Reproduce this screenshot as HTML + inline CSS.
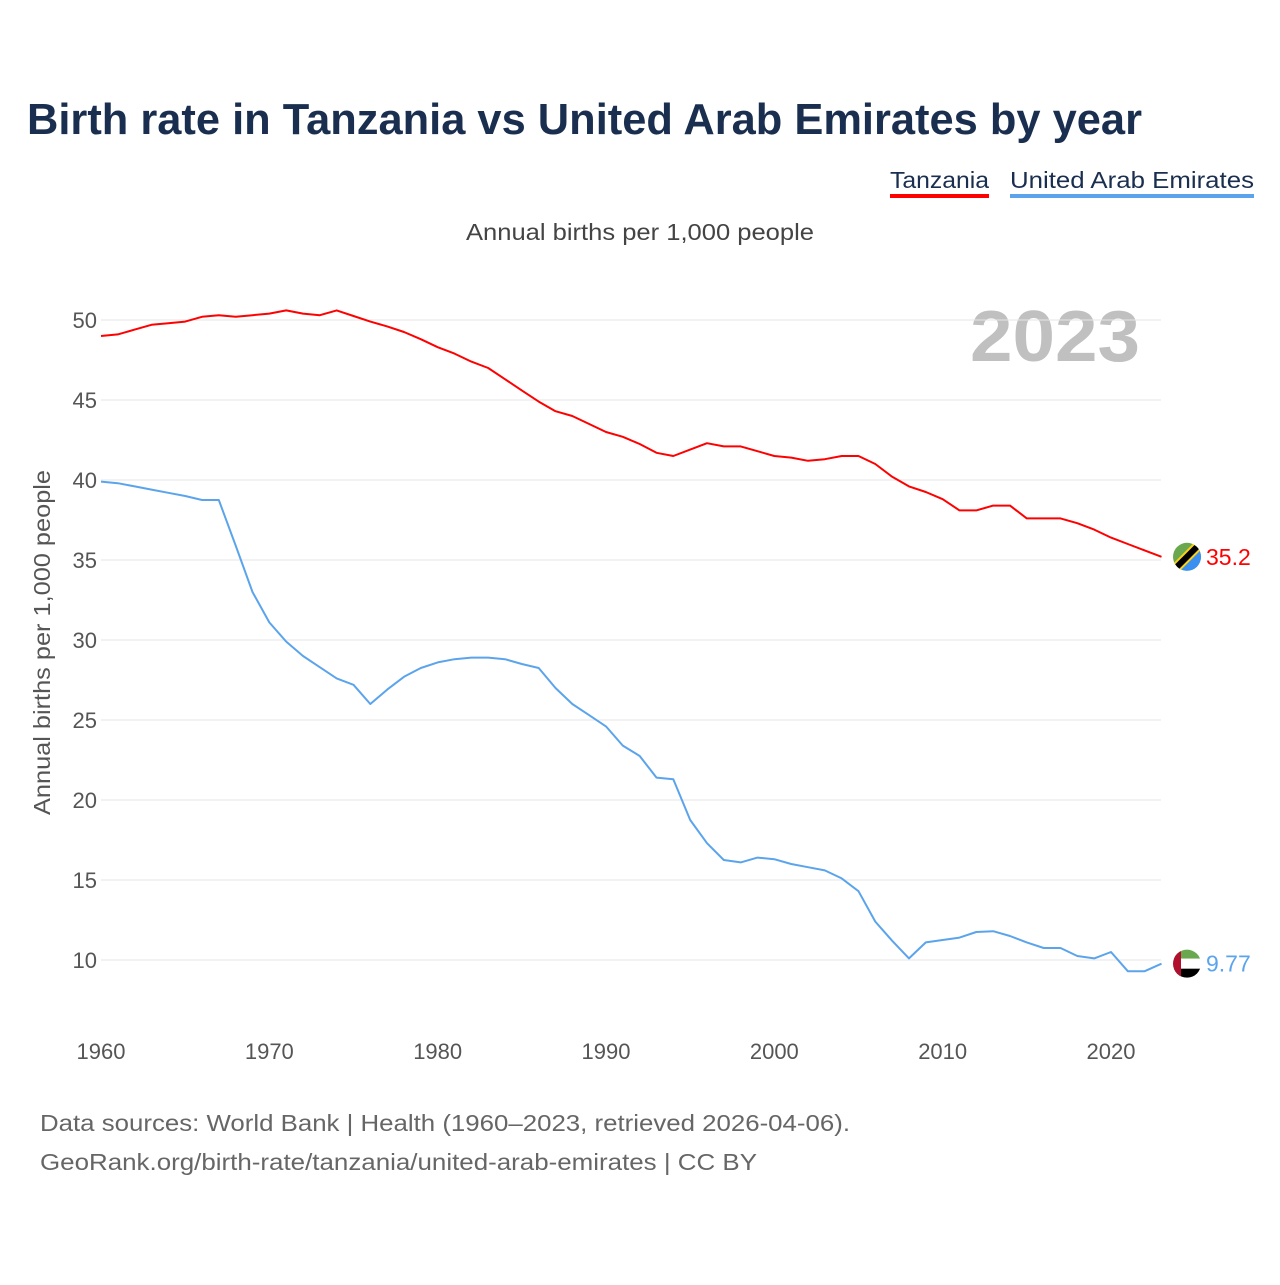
<!DOCTYPE html>
<html><head><meta charset="utf-8">
<style>
body{margin:0;background:#fff;}
svg text{font-family:"Liberation Sans",sans-serif;}
</style></head>
<body>
<svg width="1280" height="1280" xmlns="http://www.w3.org/2000/svg" id="chart">
<text x="27" y="134" font-size="44" font-weight="bold" fill="#1a2e4f" textLength="1115" lengthAdjust="spacingAndGlyphs">Birth rate in Tanzania vs United Arab Emirates by year</text>
<g>
<text x="890" y="188" font-size="23" fill="#1a2e4f" textLength="99" lengthAdjust="spacingAndGlyphs">Tanzania</text>
<rect x="890" y="194" width="99" height="4" fill="#ff0000"/>
<text x="1010" y="188" font-size="23" fill="#1a2e4f" textLength="244" lengthAdjust="spacingAndGlyphs">United Arab Emirates</text>
<rect x="1010" y="194" width="244" height="4" fill="#5ba4ec"/>
</g>
<text x="466" y="240" font-size="23" fill="#444" textLength="348" lengthAdjust="spacingAndGlyphs">Annual births per 1,000 people</text>
<text x="970" y="361" font-size="72" font-weight="bold" fill="#c0c0c0" textLength="170" lengthAdjust="spacingAndGlyphs">2023</text>
<text transform="translate(50,815) rotate(-90)" font-size="23" fill="#555" textLength="345" lengthAdjust="spacingAndGlyphs">Annual births per 1,000 people</text>
<g id="grid"></g><g id="yticks"></g><g id="xticks"></g><g id="series"></g><g id="ends"></g>
<text x="40" y="1131" font-size="23" fill="#666" textLength="810" lengthAdjust="spacingAndGlyphs">Data sources: World Bank | Health (1960–2023, retrieved 2026-04-06).</text>
<text x="40" y="1170" font-size="23" fill="#666" textLength="717" lengthAdjust="spacingAndGlyphs">GeoRank.org/birth-rate/tanzania/united-arab-emirates | CC BY</text>
</svg>
<script>
const years=[];for(let y=1960;y<=2023;y++)years.push(y);
const tanzania=[49.0,49.1,49.4,49.7,49.8,49.9,50.2,50.3,50.2,50.3,50.4,50.6,50.4,50.3,50.6,50.25,49.9,49.6,49.25,48.8,48.3,47.9,47.4,47.0,46.3,45.6,44.9,44.3,44.0,43.5,43.0,42.7,42.25,41.7,41.5,41.9,42.3,42.1,42.1,41.8,41.5,41.4,41.2,41.3,41.5,41.5,41.0,40.2,39.6,39.25,38.8,38.1,38.1,38.4,38.4,37.6,37.6,37.6,37.3,36.9,36.4,36.0,35.6,35.2];
const uae=[39.9,39.8,39.6,39.4,39.2,39.0,38.75,38.75,35.9,33.0,31.1,29.9,29.0,28.3,27.6,27.2,26.0,26.9,27.7,28.25,28.6,28.8,28.9,28.9,28.8,28.5,28.25,27.0,26.0,25.3,24.6,23.4,22.75,21.4,21.3,18.75,17.3,16.25,16.1,16.4,16.3,16.0,15.8,15.6,15.1,14.3,12.4,11.2,10.1,11.1,11.25,11.4,11.75,11.8,11.5,11.1,10.75,10.75,10.25,10.1,10.5,9.3,9.3,9.77];
const yTicks=[10,15,20,25,30,35,40,45,50];
const xTicks=[1960,1970,1980,1990,2000,2010,2020];
const endLabels=["35.2","9.77"];
const NS="http://www.w3.org/2000/svg";
const xs=y=>101+(y-1960)*(1010/60);
const ys=v=>960-(v-10)*16;
function mk(t,a,p){const e=document.createElementNS(NS,t);for(const k in a)e.setAttribute(k,a[k]);p.appendChild(e);return e;}
const g=document.getElementById('grid'),yt=document.getElementById('yticks'),xt=document.getElementById('xticks'),s=document.getElementById('series'),en=document.getElementById('ends');
yTicks.forEach(v=>{
 const l=mk('line',{x1:101,x2:1161,y1:ys(v),y2:ys(v),stroke:'#e6e6e6','stroke-width':1},g);
 
 
 const t=mk('text',{x:97,y:ys(v)+8,'font-size':22,fill:'#555','text-anchor':'end'},yt);t.textContent=v;
 
 
});
xTicks.forEach(v=>{
 const t=mk('text',{x:xs(v),y:1059,'font-size':22,fill:'#555','text-anchor':'middle'},xt);t.textContent=v;
 
 
});
function line(data,color,name){
 const p=mk('path',{d:data.map((v,i)=>(i?'L':'M')+xs(years[i]).toFixed(1)+' '+ys(v).toFixed(1)).join(''),fill:'none',stroke:color,'stroke-width':2,'stroke-linejoin':'round'},s);
 
 
}
line(tanzania,'#ff0000','line-tanzania');
line(uae,'#5ba4ec','line-uae');
const last=years.length-1;
const fx=1187;
let ty=ys(tanzania[last]);
const cp1=mk('clipPath',{id:'c1'},en);mk('circle',{cx:fx,cy:ty,r:14},cp1);
const f1=mk('g',{'clip-path':'url(#c1)'},en);


mk('rect',{x:fx-15,y:ty-15,width:30,height:30,fill:'#6aa84f'},f1);
mk('polygon',{points:`${fx+15},${ty-15} ${fx+15},${ty+15} ${fx-15},${ty+15}`,fill:'#3a8ff0'},f1);
mk('line',{x1:fx-15,y1:ty+15,x2:fx+15,y2:ty-15,stroke:'#fcd116','stroke-width':10},f1);
mk('line',{x1:fx-15,y1:ty+15,x2:fx+15,y2:ty-15,stroke:'#000','stroke-width':6},f1);
let t1=mk('text',{x:1206,y:ty+8,'font-size':23,fill:'#ff0000'},en);t1.textContent=endLabels[0];


let uy=ys(uae[last]);
const cp2=mk('clipPath',{id:'c2'},en);mk('circle',{cx:fx,cy:uy,r:14},cp2);
const f2=mk('g',{'clip-path':'url(#c2)'},en);


mk('rect',{x:fx-15,y:uy-15,width:30,height:10,fill:'#6aa84f'},f2);
mk('rect',{x:fx-15,y:uy-5,width:30,height:10,fill:'#fff'},f2);
mk('rect',{x:fx-15,y:uy+5,width:30,height:10,fill:'#000'},f2);
mk('rect',{x:fx-15,y:uy-15,width:9,height:30,fill:'#b0102e'},f2);
let t2=mk('text',{x:1206,y:uy+8,'font-size':23,fill:'#5ba4ec'},en);t2.textContent=endLabels[1];


</script>
</body></html>
